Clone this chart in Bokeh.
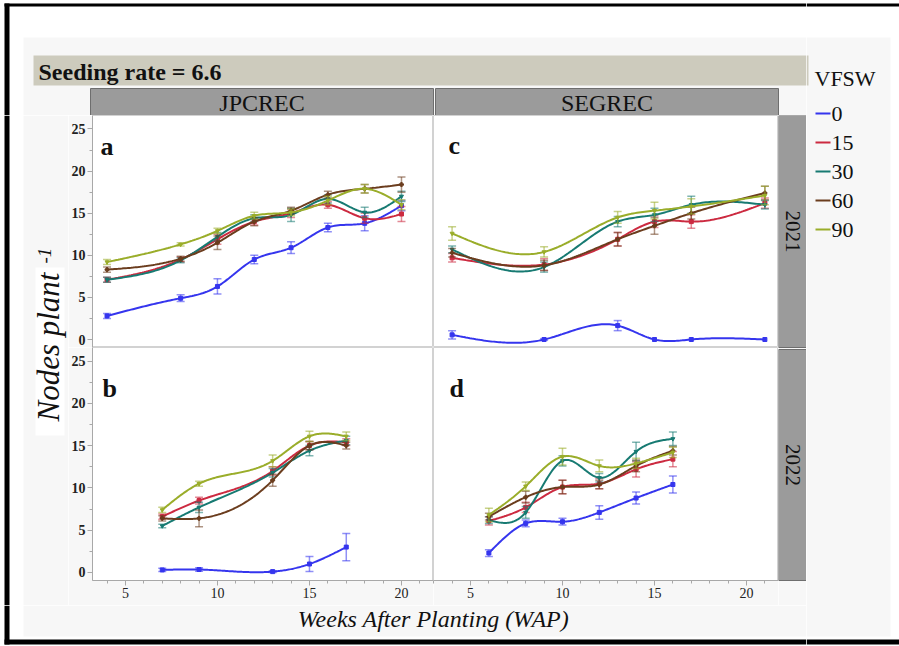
import numpy as np
from bokeh.plotting import figure
from bokeh.layouts import row, column
from bokeh.models import Range1d, LinearAxis, FixedTicker
from bokeh.core.properties import value
from bokeh.embed import file_html
from bokeh.resources import INLINE

SERIF = "Liberation Serif"

# ---- data -------------------------------------------------------------
VFSW = ["0", "15", "30", "60", "90"]
COLORS = ["#3535ee", "#cc2a40", "#177a72", "#6b3d1e", "#9aad2a"]
MARKERS = ["square", "square", "inverted_triangle", "plus", "inverted_triangle"]

SITES = ["JPCREC", "SEGREC"]
YEARS = ["2021", "2022"]
PANEL_LETTERS = ["a", "b", "c", "d"]
TITLE = "Seeding rate = 6.6"

# JPCREC 2021 (panel a)
A_WAP = [4, 8, 10, 12, 14, 16, 18, 20]
A_MEAN = [
    [2.8, 4.9, 6.3, 9.5, 10.9, 13.3, 13.8, 15.9],
    [7.1, 9.5, 11.9, 14.0, 15.0, 16.0, 14.4, 14.9],
    [7.1, 9.4, 12.2, 14.4, 14.8, 16.7, 15.1, 17.0],
    [8.3, 9.6, 11.5, 14.0, 15.3, 17.2, 17.9, 18.4],
    [9.2, 11.3, 12.9, 14.7, 15.1, 16.5, 17.9, 16.0],
]
A_SE = [
    [0.3, 0.4, 0.9, 0.5, 0.7, 0.5, 0.9, 0.6],
    [0.3, 0.3, 0.6, 0.4, 0.5, 0.4, 0.6, 0.9],
    [0.3, 0.3, 0.5, 0.4, 0.8, 0.5, 0.6, 0.6],
    [0.3, 0.3, 0.8, 0.5, 0.4, 0.4, 0.5, 0.9],
    [0.3, 0.2, 0.3, 0.4, 0.4, 0.5, 0.5, 0.6],
]

# JPCREC 2022 (panel b)
B_WAP = [7, 9, 13, 15, 17]
B_MEAN = [
    [0.3, 0.35, 0.1, 1.0, 3.0],
    [6.6, 8.5, 12.0, 15.0, 15.4],
    [5.5, 7.7, 11.8, 14.4, 15.6],
    [6.4, 6.4, 10.9, 15.0, 15.0],
    [7.4, 10.5, 13.2, 16.1, 16.1],
]
B_SE = [
    [0.2, 0.2, 0.1, 0.9, 1.6],
    [0.3, 0.4, 0.5, 0.5, 0.4],
    [0.2, 0.6, 0.5, 0.6, 0.5],
    [0.3, 1.0, 0.7, 0.5, 0.4],
    [0.3, 0.3, 0.7, 0.6, 0.5],
]

# SEGREC 2021 (panel c)
C_WAP = [4, 9, 13, 15, 17, 21]
C_MEAN = [
    [0.55, 0.0, 1.65, 0.0, 0.0, 0.0],
    [9.7, 8.9, 11.9, 14.0, 14.0, 16.2],
    [10.7, 8.6, 14.0, 14.8, 16.0, 16.0],
    [10.3, 8.8, 11.9, 13.5, 15.0, 17.4],
    [12.6, 10.4, 14.5, 15.3, 15.8, 17.1],
]
C_SE = [
    [0.5, 0.1, 0.6, 0.0, 0.0, 0.0],
    [0.5, 0.7, 0.8, 0.7, 0.8, 0.6],
    [0.4, 0.6, 0.6, 0.8, 1.0, 0.5],
    [0.5, 0.6, 0.8, 1.0, 0.7, 0.8],
    [0.8, 0.6, 0.7, 1.0, 0.9, 1.1],
]

# SEGREC 2022 (panel d)
D_WAP = [6, 8, 10, 12, 14, 16]
D_MEAN = [
    [2.3, 5.8, 6.0, 7.1, 8.8, 10.4],
    [6.1, 7.7, 10.1, 10.5, 12.2, 13.4],
    [6.2, 7.1, 13.2, 11.2, 14.3, 15.8],
    [6.6, 8.9, 10.1, 10.4, 12.6, 14.4],
    [6.8, 10.2, 13.7, 12.6, 12.9, 14.2],
]
D_SE = [
    [0.4, 0.4, 0.4, 0.8, 0.7, 1.0],
    [0.5, 0.6, 0.8, 0.6, 0.9, 0.9],
    [0.4, 0.7, 0.6, 0.5, 1.1, 0.8],
    [0.4, 0.7, 0.8, 0.5, 0.7, 0.5],
    [0.8, 0.5, 1.0, 0.7, 0.6, 0.6],
]

Y_TICKS = [0, 5, 10, 15, 20, 25]
X_TICKS = [5, 10, 15, 20]

# ---- styling constants ---------------------------------------------------
PAGE_BG = "#f7f7f7"
STRIP_FILL = "#9b9b9b"
STRIP_LINE = "#6e6e6e"
BANNER_FILL = "#cdcbbd"
Y_RANGE = (-0.95, 26.6)


def natural_spline(x, y, n=160):
    """Natural cubic spline through the points, sampled for drawing."""
    x = np.asarray(x, float)
    y = np.asarray(y, float)
    k = len(x)
    h = np.diff(x)
    A = np.zeros((k, k))
    r = np.zeros(k)
    A[0, 0] = A[-1, -1] = 1.0
    for i in range(1, k - 1):
        A[i, i - 1] = h[i - 1]
        A[i, i] = 2 * (h[i - 1] + h[i])
        A[i, i + 1] = h[i]
        r[i] = 3 * ((y[i + 1] - y[i]) / h[i] - (y[i] - y[i - 1]) / h[i - 1])
    c = np.linalg.solve(A, r)
    b = (y[1:] - y[:-1]) / h - h * (2 * c[:-1] + c[1:]) / 3
    d = (c[1:] - c[:-1]) / (3 * h)
    xs = np.linspace(x[0], x[-1], n)
    idx = np.clip(np.searchsorted(x, xs, side="right") - 1, 0, k - 2)
    dx = xs - x[idx]
    ys = y[idx] + b[idx] * dx + c[idx] * dx ** 2 + d[idx] * dx ** 3
    return xs, ys


def deco(width, height, x0, y0):
    """Plain figure whose coordinates are page pixels (y grows downward)."""
    p = figure(width=width, height=height,
               x_range=Range1d(x0, x0 + width), y_range=Range1d(y0 + height, y0),
               x_axis_type=None, y_axis_type=None,
               toolbar_location=None, output_backend="svg", min_border=0)
    p.grid.visible = False
    p.outline_line_color = None
    p.background_fill_color = "white"
    p.border_fill_color = "white"
    return p


def box(p, l, r, t, b, fill, line=None):
    p.quad(left=[l], right=[r], top=[t], bottom=[b], fill_color=fill,
           line_color=line, line_width=1)


def style_axis(ax, bold):
    ax.axis_line_color = "#a8a8a8"
    ax.major_tick_line_color = "#a8a8a8"
    ax.minor_tick_line_color = "#a8a8a8"
    ax.major_tick_in = 0
    ax.major_tick_out = 5
    ax.minor_tick_in = 0
    ax.minor_tick_out = 3
    ax.major_label_text_font = SERIF
    ax.major_label_text_font_size = "14px"
    ax.major_label_text_font_style = "bold" if bold else "normal"
    ax.major_label_text_color = "#222222"
    ax.major_label_standoff = 2


def panel(xr, w, h, wap, means, ses, letter, lpos, left_axis, bottom_axis,
          border_left, border_bottom):
    p = figure(width=w, height=h, x_range=Range1d(*xr), y_range=Range1d(*Y_RANGE),
               x_axis_type=None, y_axis_type=None,
               toolbar_location=None, output_backend="svg",
               min_border_left=border_left, min_border_right=0,
               min_border_top=0, min_border_bottom=border_bottom)
    p.grid.visible = False
    p.background_fill_color = "white"
    p.border_fill_color = PAGE_BG
    p.outline_line_color = "#d2d2d2"
    p.outline_line_width = 1
    if left_axis:
        ax = LinearAxis(ticker=FixedTicker(ticks=Y_TICKS,
                                           minor_ticks=[t + 2.5 for t in Y_TICKS]))
        style_axis(ax, True)
        p.add_layout(ax, "left")
    if bottom_axis:
        ax = LinearAxis(ticker=FixedTicker(ticks=X_TICKS,
                                           minor_ticks=list(range(2, 24))))
        style_axis(ax, False)
        p.add_layout(ax, "below")

    for i, color in enumerate(COLORS):
        m = np.asarray(means[i], float)
        s = np.asarray(ses[i], float)
        xs, ys = natural_spline(wap, m)
        p.line(xs, ys, line_color=color, line_width=2)
        has = s > 0.05
        xw = np.asarray(wap, float)[has]
        p.segment(x0=xw, y0=(m - s)[has], x1=xw, y1=(m + s)[has],
                  line_color=color, line_alpha=0.55, line_width=1.5)
        p.scatter(np.concatenate([xw, xw]), np.concatenate([(m - s)[has], (m + s)[has]]),
                  marker="dash", size=8, line_color=color, line_alpha=0.55,
                  line_width=1.5)
        p.scatter(wap, m, marker=MARKERS[i], size=4, fill_color=color,
                  line_color=color, line_width=1)

    p.text(x=[lpos[0]], y=[lpos[1]], text=[letter], text_font=value(SERIF),
           text_font_size="26px", text_font_style="bold", text_color="#111111",
           text_baseline="alphabetic", text_align="left")
    return p


# ---- top band: banner and site headers ------------------------------------
top = deco(806, 115, 0, 0)
box(top, 4, 806, 3, 6, "black")
box(top, 4, 9, 3, 115, "black")
box(top, 23, 806, 37, 115, PAGE_BG)
box(top, 33, 806, 55, 85, BANNER_FILL)
top.text(x=[38], y=[71], text=[TITLE], text_font=value(SERIF), text_font_size="24px",
         text_font_style="bold", text_color="#111111", text_baseline="middle")
for (l, r), site in zip([(90, 433), (435, 778)], SITES):
    box(top, l, r, 88, 115, STRIP_FILL, STRIP_LINE)
    top.text(x=[(l + r) / 2], y=[102], text=[site], text_font=value(SERIF),
             text_font_size="24px", text_color="#111111",
             text_baseline="middle", text_align="center")

# ---- left band: y-axis title ------------------------------------------------
LEFT_W = 68
left = deco(LEFT_W, 490, 0, 115)
box(left, 4, 9, 115, 605, "black")
box(left, 23, LEFT_W, 115, 605, PAGE_BG)
box(left, 35, 64, 267, 435, "white")
left.text(x=[48], y=[421], text=["Nodes plant"], angle=np.pi / 2,
          text_font=value(SERIF), text_font_size="31px", text_font_style="italic",
          text_color="#111111", text_baseline="middle", text_align="left")
left.text(x=[44], y=[263], text=["-1"], angle=np.pi / 2,
          text_font=value(SERIF), text_font_size="19px", text_font_style="italic",
          text_color="#111111", text_baseline="middle", text_align="left")

# ---- panels -----------------------------------------------------------------
XR_LEFT = (3.21, 21.74)
XR_RIGHT = (2.99, 21.74)
PA_W = 433 - LEFT_W
pa = panel(XR_LEFT, PA_W, 232, A_WAP, A_MEAN, A_SE, PANEL_LETTERS[0], (3.65, 22.9),
           True, False, PA_W - 341, 0)
pb = panel(XR_LEFT, PA_W, 258, B_WAP, B_MEAN, B_SE, PANEL_LETTERS[1], (3.75, 21.8),
           True, True, PA_W - 341, 25)
pc = panel(XR_RIGHT, 345, 232, C_WAP, C_MEAN, C_SE, PANEL_LETTERS[2], (3.81, 23.0),
           False, False, 0, 0)
pd = panel(XR_RIGHT, 345, 258, D_WAP, D_MEAN, D_SE, PANEL_LETTERS[3], (3.86, 21.8),
           False, True, 0, 25)

# ---- year strips on the right -------------------------------------------------
strips = deco(28, 490, 778, 115)
box(strips, 778, 806, 115, 605, PAGE_BG)
for (t, b), yr in zip([(115, 347), (349, 580)], YEARS):
    box(strips, 778, 806, t, b, STRIP_FILL, STRIP_LINE)
    strips.text(x=[792], y=[(t + b) / 2], text=[yr], angle=-np.pi / 2,
                text_font=value(SERIF), text_font_size="21px", text_color="#111111",
                text_baseline="middle", text_align="center")

# ---- bottom band: x-axis title ------------------------------------------------
bottom = deco(806, 41, 0, 605)
box(bottom, 23, 806, 605, 636, PAGE_BG)
box(bottom, 4, 9, 605, 644, "black")
box(bottom, 4, 806, 639, 644, "black")
bottom.text(x=[433], y=[618], text=["Weeks After Planting (WAP)"],
            text_font=value(SERIF), text_font_size="24px", text_font_style="italic",
            text_color="#111111", text_baseline="middle", text_align="center")

# ---- right band: legend -----------------------------------------------------
right = deco(93, 646, 806, 0)
box(right, 806, 899, 3, 6, "black")
box(right, 806, 899, 639, 644, "black")
box(right, 806, 890, 37, 636, PAGE_BG)
box(right, 806, 808, 55, 85, BANNER_FILL)
right.text(x=[814], y=[78], text=["VFSW"], text_font=value(SERIF),
           text_font_size="22px", text_color="#111111", text_baseline="middle")
leg_y = [113, 142, 171, 200, 229]
for yy, lab, color in zip(leg_y, VFSW, COLORS):
    right.line([815, 830], [yy, yy], line_color=color, line_width=2)
    right.text(x=[831], y=[yy], text=[lab], text_font=value(SERIF),
               text_font_size="22px", text_color="#111111", text_baseline="middle")

layout = row(
    column(
        top,
        row(left, column(pa, pb), column(pc, pd), strips),
        bottom,
    ),
    right,
)

open("out.html", "w").write(file_html(layout, INLINE))
